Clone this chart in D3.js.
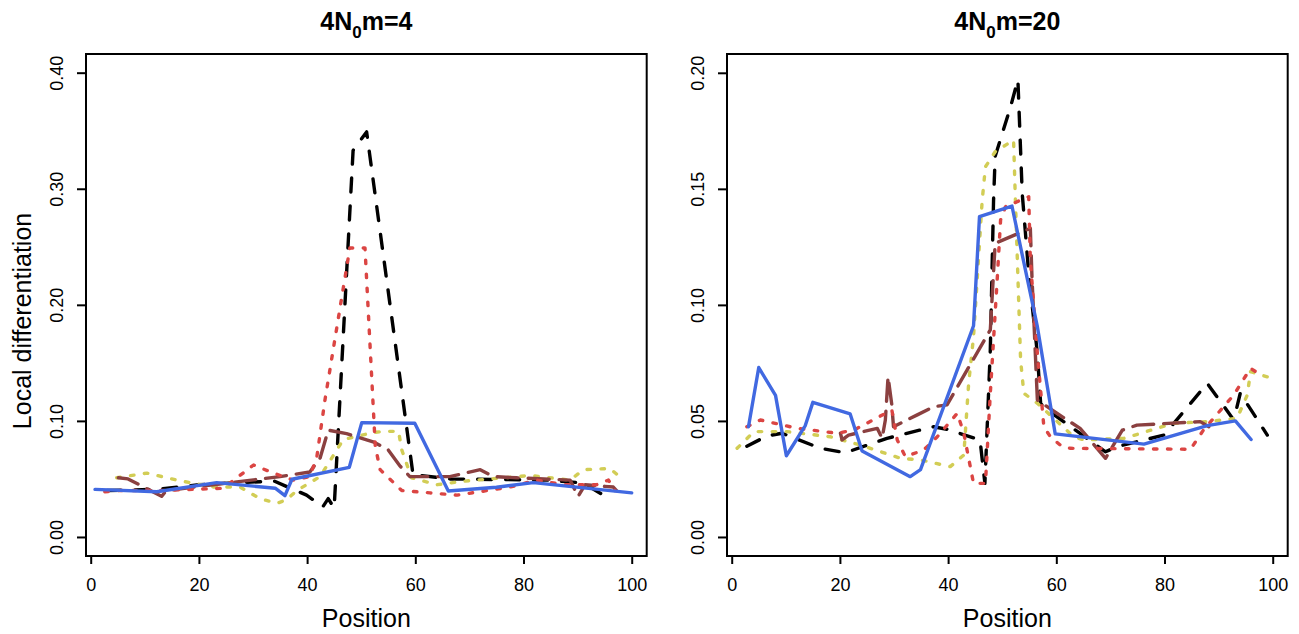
<!DOCTYPE html>
<html>
<head>
<meta charset="utf-8">
<script src="https://cdn.jsdelivr.net/npm/d3@7"></script>
<style>
  html, body { margin: 0; padding: 0; background: #fff; }
  svg { display: block; }
  text { font-family: "Liberation Sans", Arial, Helvetica, sans-serif; fill: #000; }
</style>
</head>
<body>
<svg id="chart" width="1299" height="634"></svg>
<script>
// ---- Panel 1: 4N0m = 4 ----
const p1BlackX  = [3, 12, 20, 28, 34, 39.9, 42, 42.9, 43.9, 45, 48.5, 51, 59.6, 60.9, 66.4, 84.3, 91, 94.8, 96];
const p1BlackY  = [0.040, 0.041, 0.045, 0.047, 0.048, 0.036, 0.029, 0.026, 0.033, 0.025, 0.333, 0.349, 0.053, 0.053, 0.050, 0.049, 0.0465, 0.036, 0.040];
const p1RedX    = [2.6, 5.4, 12.8, 24.5, 30.1, 33.8, 37.4, 40.5, 41.8, 43.3, 47.9, 50.7, 51.9, 52.6, 53.5, 57.5, 62.7, 67.7, 77.5, 82.4, 87.4, 93.5, 95.7, 96.9];
const p1RedY    = [0.039, 0.040, 0.040, 0.042, 0.062, 0.055, 0.049, 0.052, 0.069, 0.118, 0.249, 0.249, 0.141, 0.078, 0.058, 0.040, 0.038, 0.036, 0.043, 0.049, 0.045, 0.045, 0.049, 0.040];
const p1YellowX = [4.8, 10.4, 15.9, 22.7, 27.6, 31.3, 34.4, 36.2, 38.1, 42.4, 46.7, 52.2, 54.4, 56.9, 57.5, 59.3, 64.0, 68.9, 81.2, 88.6, 91.1, 96.0, 97.5];
const p1YellowY = [0.051, 0.055, 0.049, 0.043, 0.043, 0.033, 0.029, 0.032, 0.040, 0.052, 0.084, 0.090, 0.091, 0.091, 0.075, 0.051, 0.045, 0.048, 0.053, 0.049, 0.058, 0.059, 0.053];
const p1BrownX  = [5.1, 6.9, 13.1, 14.0, 22.6, 35.0, 40.5, 42.4, 43.9, 47.3, 52.2, 55.0, 57.2, 59.0, 66.4, 72.0, 74.4, 78.7, 88.6, 90.1, 91.4, 96.6, 97.2];
const p1BrownY  = [0.051, 0.050, 0.035, 0.040, 0.045, 0.052, 0.056, 0.068, 0.092, 0.089, 0.082, 0.075, 0.061, 0.052, 0.052, 0.058, 0.052, 0.051, 0.049, 0.035, 0.045, 0.043, 0.040];
const p1BlueX   = [0.8, 12.2, 23.3, 34.1, 35.9, 37.2, 47.8, 50.1, 59.9, 66.1, 75.0, 81.8, 100];
const p1BlueY   = [0.041, 0.039, 0.0468, 0.042, 0.0356, 0.0497, 0.060, 0.0985, 0.098, 0.0396, 0.0428, 0.0468, 0.038];

// ---- Panel 2: 4N0m = 20 ----
const p2BlackX  = [2.8, 6.5, 9.3, 16.4, 21.0, 28.7, 37.3, 39.8, 45.9, 46.8, 47.8, 48.4, 48.7, 51.5, 52.9, 53.7, 54.9, 56.5, 57.1, 57.6, 69.1, 71.2, 79.9, 87.9, 92.8, 94.0, 99.0];
const p2BlackY  = [0.0391, 0.0435, 0.0447, 0.0382, 0.0363, 0.0425, 0.0475, 0.0464, 0.0418, 0.0231, 0.0806, 0.145, 0.164, 0.185, 0.197, 0.148, 0.1136, 0.079, 0.0576, 0.056, 0.0367, 0.0389, 0.0439, 0.0662, 0.0504, 0.0619, 0.0439];
const p2RedX    = [2.8, 5.3, 12.1, 19.5, 22.6, 29.6, 30.6, 32.1, 35.5, 38.0, 41.7, 42.9, 44.7, 46.9, 47.8, 49.1, 49.7, 50.6, 54.9, 55.2, 56.5, 57.7, 58.9, 61.1, 62.6, 84.8, 87.2, 92.8, 95.9, 97.8];
const p2RedY    = [0.0475, 0.0504, 0.0468, 0.0447, 0.0461, 0.0547, 0.0418, 0.0346, 0.0375, 0.0432, 0.0533, 0.0447, 0.0231, 0.0231, 0.0619, 0.112, 0.1366, 0.1423, 0.1466, 0.1193, 0.079, 0.0475, 0.0432, 0.0389, 0.0382, 0.0378, 0.0461, 0.0612, 0.0727, 0.0698];
const p2YellowX = [1.0, 4.1, 10.2, 18.2, 23.8, 31.2, 34.9, 40.4, 42.9, 43.8, 44.7, 46.3, 46.9, 48.7, 52.1, 52.4, 53.4, 54.0, 56.5, 63.2, 65.1, 72.5, 81.7, 87.9, 93.4, 95.3, 95.9, 99.0];
const p2YellowY = [0.0382, 0.0454, 0.0454, 0.0432, 0.0396, 0.0339, 0.0332, 0.0303, 0.0353, 0.0662, 0.0863, 0.145, 0.1595, 0.166, 0.171, 0.148, 0.0762, 0.0619, 0.0576, 0.0432, 0.0418, 0.0425, 0.049, 0.0497, 0.0511, 0.0612, 0.0712, 0.069];
const p2BrownX  = [20.1, 20.4, 21.6, 26.9, 27.8, 28.4, 28.9, 29.6, 29.9, 34.3, 37.3, 39.8, 43.5, 47.8, 48.7, 55.2, 55.5, 56.5, 60.1, 64.4, 69.1, 72.2, 74.9, 86.6, 88.2];
const p2BrownY  = [0.0447, 0.0418, 0.0439, 0.0468, 0.0425, 0.0504, 0.069, 0.0569, 0.0475, 0.0526, 0.0561, 0.0569, 0.0719, 0.0892, 0.1265, 0.133, 0.112, 0.059, 0.0533, 0.0468, 0.0339, 0.046, 0.0482, 0.0497, 0.0475];
const p2BlueX   = [3.1, 5.0, 8.1, 10.1, 13.6, 15.0, 21.9, 24.1, 33.0, 34.9, 44.7, 45.8, 51.8, 56.5, 59.8, 76.2, 87.9, 93.1, 96.0];
const p2BlueY   = [0.0475, 0.073, 0.061, 0.035, 0.048, 0.058, 0.053, 0.037, 0.026, 0.029, 0.091, 0.138, 0.1426, 0.0906, 0.0444, 0.040, 0.048, 0.050, 0.042];

// ---- axis ticks and labels ----
const xTicks = [0, 20, 40, 60, 80, 100];
const p1YTicks = [0, 0.1, 0.2, 0.3, 0.4];
const p2YTicks = [0, 0.05, 0.1, 0.15, 0.2];
const p1Title = { main: "4N", sub: "0", rest: "m=4" };
const p2Title = { main: "4N", sub: "0", rest: "m=20" };
const xLabel = "Position";
const yLabel = "Local differentiation";

// Line styles (R lty-like dash patterns)
const styles = {
  black:  { color: "#000000", dash: "14,14" },
  yellow: { color: "#d2cd55", dash: "3.5,10.5" },
  brown:  { color: "#8b4040", dash: "21,10" },
  red:    { color: "#db4543", dash: "3.5,10.5" },
  blue:   { color: "#4169e1", dash: null }
};

const svg = d3.select("#chart");
const FONT = '"Liberation Sans", Arial, Helvetica, sans-serif';

function drawPanel(opts) {
  const { left, top, width, height, xDomain, yDomain, yTicks, yFmt, series, title } = opts;
  const g = svg.append("g").attr("transform", `translate(${left},${top})`);
  const x = d3.scaleLinear().domain(xDomain).range([0, width]);
  const y = d3.scaleLinear().domain(yDomain).range([height, 0]);

  const clipId = "clip" + left;
  g.append("clipPath").attr("id", clipId)
    .append("rect").attr("width", width).attr("height", height);

  const line = d3.line().x(d => x(d[0])).y(d => y(d[1]));
  const plot = g.append("g").attr("clip-path", `url(#${clipId})`);
  series.forEach(s => {
    const st = styles[s.style];
    const pts = s.xs.map((v, i) => [v, s.ys[i]]);
    plot.append("path")
      .datum(pts)
      .attr("d", line)
      .attr("fill", "none")
      .attr("stroke", st.color)
      .attr("stroke-width", 3.4)
      .attr("stroke-linecap", "round")
      .attr("stroke-linejoin", "round")
      .attr("stroke-dasharray", st.dash);
  });

  // box
  g.append("rect").attr("width", width).attr("height", height)
    .attr("fill", "none").attr("stroke", "#000").attr("stroke-width", 2);

  // x axis
  const xa = g.append("g").attr("transform", `translate(0,${height})`)
    .call(d3.axisBottom(x).tickValues(xTicks).tickSize(8).tickSizeOuter(0));
  xa.select(".domain").remove();
  xa.selectAll(".tick line").attr("stroke-width", 2);
  xa.selectAll(".tick text")
    .attr("y", 35).attr("dy", 0)
    .style("font-family", FONT).style("font-size", "18px");

  // y axis
  const ya = g.append("g")
    .call(d3.axisLeft(y).tickValues(yTicks).tickFormat(d3.format(yFmt)).tickSize(9).tickSizeOuter(0));
  ya.select(".domain").remove();
  ya.selectAll(".tick line").attr("stroke-width", 2);
  ya.selectAll(".tick text")
    .attr("x", 0).attr("dy", 0)
    .attr("text-anchor", "middle")
    .attr("transform", "translate(-23,0) rotate(-90)")
    .style("font-family", FONT).style("font-size", "18px");

  // x axis title
  g.append("text")
    .attr("x", width / 2).attr("y", height + 71)
    .attr("text-anchor", "middle")
    .style("font-size", "25px")
    .text(xLabel);

  // panel title with subscript
  const t = g.append("text")
    .attr("x", width / 2).attr("y", -24)
    .attr("text-anchor", "middle")
    .style("font-size", "25px").style("font-weight", "bold");
  t.append("tspan").text(title.main);
  t.append("tspan").attr("dy", 8).style("font-size", "17px").text(title.sub);
  t.append("tspan").attr("dy", -8).text(title.rest);

  return g;
}

const W = 560.7, H = 502, TOP = 54;

drawPanel({
  left: 86, top: TOP, width: W, height: H,
  xDomain: [-0.87, 102.77], yDomain: [-0.0164, 0.4161],
  yTicks: p1YTicks, yFmt: ".2f", title: p1Title,
  series: [
    { xs: p1BlackX, ys: p1BlackY, style: "black" },
    { xs: p1YellowX, ys: p1YellowY, style: "yellow" },
    { xs: p1BrownX, ys: p1BrownY, style: "brown" },
    { xs: p1RedX, ys: p1RedY, style: "red" },
    { xs: p1BlueX, ys: p1BlueY, style: "blue" }
  ]
});

drawPanel({
  left: 727, top: TOP, width: W, height: H,
  xDomain: [-0.87, 102.77], yDomain: [-0.0082, 0.2081],
  yTicks: p2YTicks, yFmt: ".2f", title: p2Title,
  series: [
    { xs: p2BlackX, ys: p2BlackY, style: "black" },
    { xs: p2YellowX, ys: p2YellowY, style: "yellow" },
    { xs: p2BrownX, ys: p2BrownY, style: "brown" },
    { xs: p2RedX, ys: p2RedY, style: "red" },
    { xs: p2BlueX, ys: p2BlueY, style: "blue" }
  ]
});

// shared y axis title
svg.append("text")
  .attr("transform", `translate(31,321) rotate(-90)`)
  .attr("text-anchor", "middle")
  .style("font-size", "25px")
  .text(yLabel);
</script>
</body>
</html>
